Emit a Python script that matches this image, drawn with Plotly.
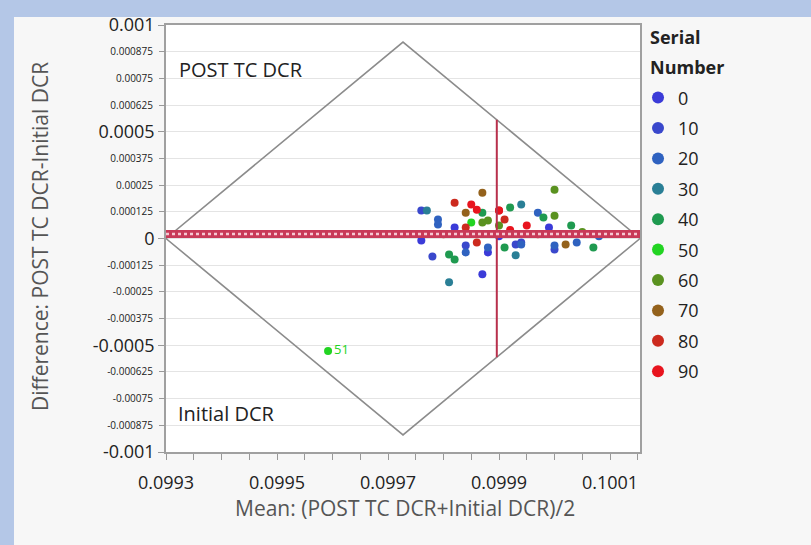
import plotly.graph_objects as go

# Axis ranges
x_range = [0.0993, 0.100154]
y_range = [-0.001, 0.001]

# Diamond half-height (difference at the top/bottom corners)
diamond_top = 0.00092

# Summary statistics
mean_x = 0.099896
mean_diff = 0.000021

# Serial number groups and their colours
serial_groups = ["0", "10", "20", "30", "40", "50", "60", "70", "80", "90"]
group_colors = ["#3b3bd8", "#3a48cc", "#2f62c0", "#2a7f96", "#1f9a50",
                "#22d422", "#5a9220", "#94621c", "#cc2a1e", "#e8141e"]

# Mean of the two readings, per group
mean_vals = {
    "0":  [0.09987, 0.09982, 0.09999, 0.09976, 0.09988, 0.09990],
    "10": [0.09976, 0.09984, 0.09978, 0.09993, 0.10000, 0.09994],
    "20": [0.09979, 0.09979, 0.09984, 0.09988, 0.09997, 0.10000, 0.10004, 0.09994, 0.10008],
    "30": [0.09977, 0.09994, 0.09993, 0.09981],
    "40": [0.09987, 0.09992, 0.09998, 0.10003, 0.09991, 0.09981, 0.09982, 0.10007],
    "50": [0.099592, 0.09985],
    "60": [0.10000, 0.09988, 0.09987, 0.10000, 0.09990, 0.10005],
    "70": [0.09987, 0.09984, 0.10002],
    "80": [0.09982, 0.09984, 0.09991, 0.09986, 0.09990, 0.09980],
    "90": [0.09985, 0.09986, 0.09990, 0.09995, 0.09992, 0.09997],
}

# Difference of the two readings, per group
diff_vals = {
    "0":  [-0.000168, 0.000051, 0.000051, -0.000009, -0.000065, 0.000010],
    "10": [0.000131, -0.000033, -0.000084, -0.000028, -0.000051, -0.000019],
    "20": [0.000089, 0.000065, -0.000065, -0.000042, 0.000121, -0.000033, -0.000019, -0.000028, 0.000010],
    "30": [0.000131, 0.000159, -0.000079, -0.000205],
    "40": [0.000121, 0.000145, 0.000098, 0.000061, -0.000042, -0.000075, -0.000098, -0.000042],
    "50": [-0.000527, 0.000075],
    "60": [0.000228, 0.000084, 0.000075, 0.000107, 0.000061, 0.000030],
    "70": [0.000214, 0.000121, -0.000028],
    "80": [0.000168, 0.000051, 0.000089, -0.000019, 0.000131, 0.000020],
    "90": [0.000159, 0.000135, 0.000131, 0.000061, 0.000040, 0.000020],
}

# Point labels (only the outlying serial is labelled)
point_labels = {"50": ["51", ""]}

x_major = [0.0993, 0.0995, 0.0997, 0.0999, 0.1001]
x_major_text = ["0.0993", "0.0995", "0.0997", "0.0999", "0.1001"]
y_major = [0.001, 0.0005, 0, -0.0005, -0.001]
y_major_text = ["0.001", "0.0005", "0", "-0.0005", "-0.001"]
y_minor = [0.000875, 0.00075, 0.000625, 0.000375, 0.00025, 0.000125,
           -0.000125, -0.00025, -0.000375, -0.000625, -0.00075, -0.000875]
y_minor_text = ["0.000875", "0.00075", "0.000625", "0.000375", "0.00025", "0.000125",
                "-0.000125", "-0.00025", "-0.000375", "-0.000625", "-0.00075", "-0.000875"]

FONT = "Open Sans"
fig = go.Figure()

# Diamond outlining the original measurement range
xc = (x_range[0] + x_range[1]) / 2
fig.add_trace(go.Scatter(
    x=[x_range[0], xc, x_range[1], xc, x_range[0]],
    y=[0, diamond_top, 0, -diamond_top, 0],
    mode="lines", line=dict(color="#8c8c8c", width=1.6),
    showlegend=False, hoverinfo="skip"))

# Data points by serial number group
for name, color in zip(serial_groups, group_colors):
    labels = point_labels.get(name)
    fig.add_trace(go.Scatter(
        x=mean_vals[name], y=diff_vals[name],
        mode="markers+text" if labels else "markers",
        text=labels, textposition="middle right",
        textfont=dict(family=FONT, size=13, color=color),
        marker=dict(color=color, size=8, line=dict(width=0)),
        name=name, legendgroup=name))

# Vertical mean line bounded by the diamond
half_w = (x_range[1] - x_range[0]) / 2
v_extent = diamond_top * (1 - abs(mean_x - xc) / half_w)
fig.add_trace(go.Scatter(
    x=[mean_x, mean_x], y=[-v_extent, v_extent], mode="lines",
    line=dict(color="#b8304c", width=2), showlegend=False, hoverinfo="skip"))

# Mean difference with its confidence band
fig.add_trace(go.Scatter(
    x=[x_range[0], x_range[1]], y=[mean_diff, mean_diff], mode="lines",
    line=dict(color="#c83a58", width=8), showlegend=False, hoverinfo="skip"))
fig.add_trace(go.Scatter(
    x=[x_range[0], x_range[1]], y=[mean_diff, mean_diff], mode="lines",
    line=dict(color="#f6c8d2", width=2.5, dash="dot"), showlegend=False, hoverinfo="skip"))

# Secondary overlay axis carries the small intermediate tick labels
fig.add_trace(go.Scatter(x=[None], y=[None], yaxis="y2", showlegend=False, hoverinfo="skip"))

# Page background: blue edge strips, light panel, white plot area
shapes = [
    dict(type="rect", xref="paper", yref="paper", x0=-0.3207, x1=1.5, y0=-0.3, y1=1.0186,
         fillcolor="#f7f7f7", line=dict(width=0), layer="below"),
    dict(type="rect", xref="paper", yref="paper", x0=0, x1=1, y0=0, y1=1,
         fillcolor="#ffffff", line=dict(width=0), layer="below"),
]

annotations = [
    dict(text="POST TC DCR", xref="paper", yref="paper", x=0.024, y=0.8956,
         xanchor="left", yanchor="middle", showarrow=False,
         font=dict(family=FONT, size=20, color="#222222")),
    dict(text="Initial DCR", xref="paper", yref="paper", x=0.022, y=0.0905,
         xanchor="left", yanchor="middle", showarrow=False,
         font=dict(family=FONT, size=20, color="#222222")),
    dict(text="Difference: POST TC DCR-Initial DCR", xref="paper", yref="paper",
         x=-0.2658, y=0.5035, textangle=-90, xanchor="center", yanchor="middle",
         showarrow=False, font=dict(family=FONT, size=21, color="#555555")),
    dict(text="Mean: (POST TC DCR+Initial DCR)/2", xref="paper", yref="paper",
         x=0.504, y=-0.13, xanchor="center", yanchor="middle",
         showarrow=False, font=dict(family=FONT, size=21, color="#555555")),
    # Legend heading
    dict(text="<b>Serial</b>", xref="paper", yref="paper", x=1.017, y=0.9722,
         xanchor="left", yanchor="middle", showarrow=False,
         font=dict(family=FONT, size=18, color="#222222")),
    dict(text="<b>Number</b>", xref="paper", yref="paper", x=1.017, y=0.9026,
         xanchor="left", yanchor="middle", showarrow=False,
         font=dict(family=FONT, size=18, color="#222222")),
]

fig.update_layout(
    width=811, height=545,
    margin=dict(l=166, r=171, t=21, b=93),
    paper_bgcolor="#b4c7e7", plot_bgcolor="#ffffff",
    font=dict(family=FONT, color="#222222"),
    shapes=shapes, annotations=annotations,
    xaxis=dict(range=x_range, tickvals=x_major, ticktext=x_major_text,
               ticks="outside", ticklen=6, tickcolor="#999999", ticklabelstandoff=8,
               minor=dict(dtick=0.00005, tick0=0.0993, ticks="outside", ticklen=6,
                          tickcolor="#999999", showgrid=False),
               showgrid=False, zeroline=False, showline=True, linecolor="#a0a0a0",
               linewidth=1.5, mirror=True, tickfont=dict(size=18, color="#222222")),
    yaxis=dict(range=y_range, tickvals=y_major, ticktext=y_major_text,
               ticks="outside", ticklen=6, tickcolor="#999999",
               showgrid=True, gridcolor="#e4e4e4", zeroline=False, showline=True,
               linecolor="#a0a0a0", linewidth=1.5, mirror=True,
               tickfont=dict(size=18, color="#222222")),
    yaxis2=dict(range=y_range, overlaying="y", side="left", tickvals=y_minor,
                ticktext=y_minor_text, ticks="outside", ticklen=6, tickcolor="#999999",
                ticklabelstandoff=4,
                showgrid=True, gridcolor="#e4e4e4", zeroline=False, showline=False,
                tickfont=dict(size=10, color="#222222")),
    legend=dict(x=0.9958, y=0.8726, xanchor="left", yanchor="top",
                bgcolor="rgba(0,0,0,0)", itemsizing="constant",
                tracegroupgap=4, traceorder="grouped",
                font=dict(size=18, color="#222222")),
    showlegend=True,
)

fig.write_html("out.html")
